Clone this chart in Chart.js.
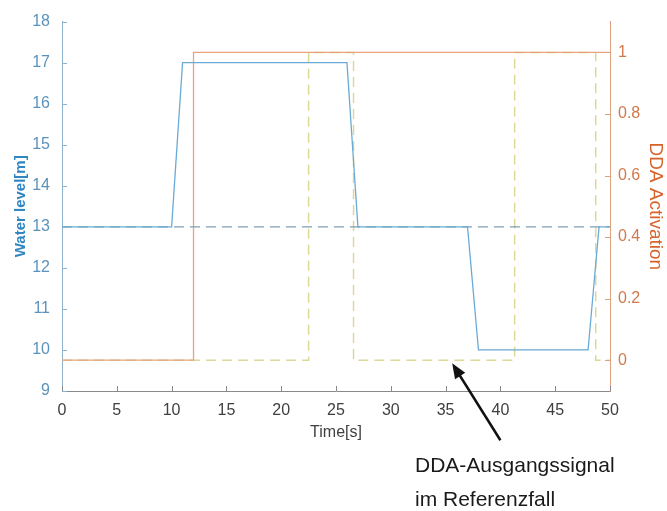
<!DOCTYPE html>
<html>
<head>
<meta charset="utf-8">
<script src="https://cdn.jsdelivr.net/npm/chart.js@4/dist/chart.umd.min.js"></script>
<style>
  html, body { margin: 0; padding: 0; background: #fff; }
  #wrap { position: relative; width: 667px; height: 511px; }
  .note { position: absolute; left: 415px; font: 21px "Liberation Sans", Arial, sans-serif; line-height: 21px; color: #1a1a1a; white-space: nowrap; }
</style>
</head>
<body>
<div id="wrap">
  <canvas id="myChart" width="667" height="511"></canvas>
  <div class="note" style="top:454px">DDA-Ausgangssignal</div>
  <div class="note" style="top:488px">im Referenzfall</div>
</div>
<script>
// Wasserstand (linke Achse)
var levelTime = [0, 10, 11, 26, 27, 37, 38, 48, 49, 50];
var levelValues = [13, 13, 17, 17, 13, 13, 10, 10, 13, 13];
var refLevelTime = [0, 50];
var refLevelValues = [13, 13];

// DDA Aktivierung (rechte Achse)
var actTime = [0, 12, 12, 50];
var actValues = [0, 0, 1, 1];
var refActTime = [0, 22.5, 22.5, 26.6, 26.6, 41.3, 41.3, 48.7, 48.7, 50];
var refActValues = [0, 0, 1, 1, 0, 0, 1, 1, 0, 0];

// Ticks
var xTicks = [0, 5, 10, 15, 20, 25, 30, 35, 40, 45, 50];
var yTicks = [9, 10, 11, 12, 13, 14, 15, 16, 17, 18];
var y2Ticks = [0, 0.2, 0.4, 0.6, 0.8, 1];

// Pfeil zur Beschriftung (Datenkoordinaten)
var arrowFrom = {x: 40, y: -0.26};
var arrowTo = {x: 35.6, y: -0.01};

function pts(xs, ys) {
  var out = [];
  for (var i = 0; i < xs.length; i++) out.push({x: xs[i], y: ys[i]});
  return out;
}

function setTicks(list) {
  return function (scale) {
    scale.ticks = list.map(function (v) { return {value: v}; });
  };
}

var font = "'Liberation Sans', Arial, sans-serif";

// Ticks nach innen wie in MATLAB
var innerTicks = {
  id: 'innerTicks',
  afterDraw: function (chart) {
    var ctx = chart.ctx, a = chart.chartArea;
    var s = chart.scales;
    ctx.save();
    ctx.lineWidth = 1;
    ctx.strokeStyle = '#8a8a8a';
    s.x.ticks.forEach(function (t) {
      var px = Math.round(s.x.getPixelForValue(t.value)) + 0.5;
      ctx.beginPath(); ctx.moveTo(px, a.bottom); ctx.lineTo(px, a.bottom - 5); ctx.stroke();
    });
    ctx.strokeStyle = '#8fb3cc';
    s.y.ticks.forEach(function (t) {
      var py = Math.round(s.y.getPixelForValue(t.value)) + 0.5;
      ctx.beginPath(); ctx.moveTo(a.left, py); ctx.lineTo(a.left + 5, py); ctx.stroke();
    });
    ctx.strokeStyle = '#dba282';
    s.y2.ticks.forEach(function (t) {
      var py = Math.round(s.y2.getPixelForValue(t.value)) + 0.5;
      ctx.beginPath(); ctx.moveTo(a.right, py); ctx.lineTo(a.right - 5, py); ctx.stroke();
    });
    ctx.restore();
  }
};

var arrowPlugin = {
  id: 'arrowPlugin',
  afterDraw: function (chart) {
    var ctx = chart.ctx, s = chart.scales;
    var x0 = s.x.getPixelForValue(arrowFrom.x), y0 = s.y2.getPixelForValue(arrowFrom.y);
    var x1 = s.x.getPixelForValue(arrowTo.x), y1 = s.y2.getPixelForValue(arrowTo.y);
    var ang = Math.atan2(y1 - y0, x1 - x0);
    var len = 15, w = 6;
    ctx.save();
    ctx.strokeStyle = '#111';
    ctx.fillStyle = '#111';
    ctx.lineWidth = 2.5;
    ctx.beginPath();
    ctx.moveTo(x0, y0);
    ctx.lineTo(x1 - Math.cos(ang) * len * 0.8, y1 - Math.sin(ang) * len * 0.8);
    ctx.stroke();
    ctx.beginPath();
    ctx.moveTo(x1, y1);
    ctx.lineTo(x1 - Math.cos(ang) * len + Math.sin(ang) * w, y1 - Math.sin(ang) * len - Math.cos(ang) * w);
    ctx.lineTo(x1 - Math.cos(ang) * len - Math.sin(ang) * w, y1 - Math.sin(ang) * len + Math.cos(ang) * w);
    ctx.closePath();
    ctx.fill();
    ctx.restore();
  }
};

new Chart("myChart", {
  type: "line",
  data: {
    datasets: [{
      data: pts(levelTime, levelValues),
      borderColor: "#6aaad4",
      borderWidth: 1.3,
      yAxisID: 'y'
    }, {
      data: pts(refLevelTime, refLevelValues),
      borderColor: "#7f9fb3",
      borderWidth: 1.3,
      borderDash: [10, 6],
      yAxisID: 'y'
    }, {
      data: pts(actTime, actValues),
      borderColor: "#e8a37e",
      borderWidth: 1.3,
      yAxisID: 'y2'
    }, {
      data: pts(refActTime, refActValues),
      borderColor: "#dcd898",
      borderWidth: 1.5,
      borderDash: [10, 6],
      yAxisID: 'y2'
    }]
  },
  options: {
    responsive: false,
    animation: false,
    events: [],
    elements: { point: { radius: 0 }, line: { tension: 0 } },
    layout: { padding: { top: 21, left: 0, right: 0, bottom: 0 } },
    plugins: { legend: { display: false }, tooltip: { enabled: false } },
    scales: {
      x: {
        type: 'linear',
        min: 0, max: 50,
        afterBuildTicks: setTicks(xTicks),
        afterFit: function (s) { s.height = 120; },
        grid: { display: false, drawTicks: false },
        border: { color: '#8a8a8a' },
        ticks: { color: '#404040', padding: 10, font: { family: font, size: 16 } },
        title: { display: true, text: 'Time[s]', color: '#404040', padding: { top: 0, bottom: 69 }, font: { family: font, size: 16 } }
      },
      y: {
        position: 'left',
        min: 9, max: 18,
        afterBuildTicks: setTicks(yTicks),
        afterFit: function (s) { s.width = 62; },
        grid: { display: false, drawTicks: false },
        border: { color: '#8fb3cc' },
        ticks: { color: '#5a93bd', padding: 12, font: { family: font, size: 16 } },
        title: { display: true, text: 'Water level[m]', color: '#2f86c3', padding: { top: 12, bottom: 0 }, font: { family: font, size: 15, weight: 'bold' } }
      },
      y2: {
        position: 'right',
        min: -0.1, max: 1.1,
        afterBuildTicks: setTicks(y2Ticks),
        afterFit: function (s) { s.width = 57; },
        grid: { display: false, drawTicks: false },
        border: { color: '#dba282' },
        ticks: { color: '#cf7a4e', padding: 8, font: { family: font, size: 16 },
          callback: function (v) { return String(Math.round(v * 10) / 10); } },
        title: { display: true, text: 'DDA Activation', color: '#d9622b', padding: { top: 0, bottom: 0 }, font: { family: font, size: 19 } }
      }
    }
  },
  plugins: [innerTicks, arrowPlugin]
});
</script>
</body>
</html>
